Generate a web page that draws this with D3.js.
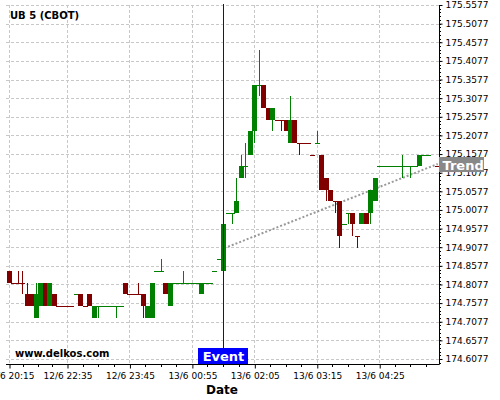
<!DOCTYPE html>
<html><head><meta charset="utf-8">
<script src="https://cdn.jsdelivr.net/npm/d3@7"></script>
<style>body{margin:0;background:#fff}svg{display:block;font-family:"DejaVu Sans",sans-serif}</style>
</head><body><svg id="c" width="500" height="400"></svg>
<script>
const title = "UB 5 (CBOT)";
const watermark = "www.delkos.com";
const xAxisTitle = "Date";
const eventLabel = "Event";
const trendLabel = "Trend";

const times = [
"12/6 20:15","12/6 21:35","12/6 21:40","12/6 21:45","12/6 21:50","12/6 21:55","12/6 22:00","12/6 22:05","12/6 22:10","12/6 22:15","12/6 22:20","12/6 22:25","12/6 22:30",
"12/6 22:35","12/6 22:40","12/6 22:45","12/6 22:50","12/6 22:55","12/6 23:00","12/6 23:05","12/6 23:10","12/6 23:15","12/6 23:20","12/6 23:25","12/6 23:30","12/6 23:35","12/6 23:40",
"12/6 23:45","12/6 23:50","12/6 23:55","13/6 00:00","13/6 00:05","13/6 00:10","13/6 00:15","13/6 00:20","13/6 00:25","13/6 00:30","13/6 00:35","13/6 00:40","13/6 00:45","13/6 00:50",
"13/6 00:55","13/6 01:00","13/6 01:05","13/6 01:10","13/6 01:15","13/6 01:20","13/6 01:25","13/6 01:30","13/6 01:35","13/6 01:40","13/6 01:45","13/6 01:50","13/6 01:55","13/6 02:00",
"13/6 02:05","13/6 02:10","13/6 02:15","13/6 02:20","13/6 02:25","13/6 02:30","13/6 02:35","13/6 02:40","13/6 02:45","13/6 02:50","13/6 02:55","13/6 03:00","13/6 03:05","13/6 03:10",
"13/6 03:15","13/6 03:20","13/6 03:25","13/6 03:30","13/6 03:35","13/6 03:40","13/6 03:45","13/6 03:50","13/6 03:55","13/6 04:00","13/6 04:05","13/6 04:10","13/6 04:15","13/6 04:20",
"13/6 04:25","13/6 04:30","13/6 04:35","13/6 04:40","13/6 04:45","13/6 04:50","13/6 04:55","13/6 05:00","13/6 05:05","13/6 05:10","13/6 05:15","13/6 05:20","13/6 05:25","13/6 05:30"
];

const open = [
174.84375,174.8125,174.8125,174.8125,174.78125,174.78125,174.71875,174.75,174.8125,174.75,
174.78125,174.75,174.75,174.75,174.75,174.78125,174.78125,174.75,174.78125,174.71875,
174.75,174.75,174.75,174.75,174.75,174.75,174.8125,174.78125,174.78125,174.78125,
174.78125,174.71875,174.71875,174.84375,174.84375,174.8125,174.75,174.8125,174.8125,174.8125,
174.8125,174.8125,174.8125,174.78125,174.8125,174.8125,174.84375,174.875,174.84375,175,
175,175,175.09375,175.125,175.15625,175.21875,175.34375,175.34375,175.28125,175.25,
175.25,175.25,175.25,175.1875,175.25,175.1875,175.1875,175.1875,175.15625,175.1875,
175.15625,175.09375,175.0625,175.03125,175.03125,174.96875,175,175,174.9375,174.96875,
175,175,175.03125,175.125,175.125,175.125,175.125,175.125,175.125,175.125,
175.125,175.125,175.125,175.15625,175.15625,null,175.125];
const high = [
174.84375,174.8125,174.84375,174.84375,174.8125,174.78125,174.8125,174.8125,174.8125,174.8125,
174.78125,174.75,174.75,174.75,174.75,174.78125,174.78125,174.75,174.78125,174.75,
174.75,174.75,174.75,174.75,174.75,174.75,174.8125,174.78125,174.78125,174.8125,
174.78125,174.75,174.8125,174.84375,174.875,174.8125,174.8125,174.8125,174.8125,174.84375,
174.8125,174.8125,174.8125,174.8125,174.8125,174.8125,174.84375,174.875,174.96875,175,
175,175.09375,175.15625,175.1875,175.21875,175.34375,175.4375,175.34375,175.28125,175.28125,
175.25,175.25,175.25,175.3125,175.25,175.1875,175.1875,175.1875,175.15625,175.21875,
175.15625,175.09375,175.0625,175.03125,175.03125,174.96875,175,175,174.9375,175,
175,175.0625,175.09375,175.125,175.125,175.125,175.125,175.125,175.15625,175.125,
175.125,175.125,175.15625,175.15625,175.15625,null,175.125];
const low = [
174.8125,174.8125,174.8125,174.78125,174.75,174.75,174.71875,174.75,174.75,174.75,
174.75,174.75,174.75,174.75,174.75,174.78125,174.75,174.75,174.75,174.71875,
174.71875,174.75,174.75,174.75,174.71875,174.75,174.78125,174.78125,174.78125,174.78125,
174.71875,174.71875,174.71875,174.84375,174.84375,174.78125,174.75,174.8125,174.8125,174.8125,
174.8125,174.8125,174.8125,174.78125,174.8125,174.8125,174.84375,174.875,174.84375,175,
174.96875,175,175.09375,175.09375,175.15625,175.1875,175.3125,175.28125,175.25,175.21875,
175.25,175.21875,175.21875,175.1875,175.1875,175.15625,175.1875,175.1875,175.15625,175.1875,
175.0625,175.03125,175.03125,175,174.90625,174.96875,174.96875,174.9375,174.90625,174.96875,
174.96875,174.96875,175.03125,175.125,175.125,175.125,175.125,175.125,175.09375,175.125,
175.09375,175.125,175.125,175.15625,175.15625,null,175.125];
const close = [
174.8125,174.8125,174.8125,174.8125,174.75,174.75,174.78125,174.8125,174.75,174.8125,
174.75,174.75,174.75,174.75,174.75,174.78125,174.75,174.75,174.75,174.75,
174.75,174.75,174.75,174.75,174.75,174.75,174.78125,174.78125,174.78125,174.78125,
174.75,174.75,174.8125,174.84375,174.84375,174.78125,174.8125,174.8125,174.8125,174.8125,
174.8125,174.8125,174.8125,174.8125,174.8125,174.8125,174.84375,174.875,174.96875,175,
175,175.03125,175.125,175.125,175.21875,175.34375,175.34375,175.28125,175.25,175.28125,
175.25,175.25,175.21875,175.25,175.1875,175.1875,175.1875,175.1875,175.15625,175.1875,
175.0625,175.0625,175.03125,175.03125,174.9375,174.96875,175,174.96875,174.9375,175,
174.96875,175.0625,175.09375,175.125,175.125,175.125,175.125,175.125,175.125,175.125,
175.125,175.125,175.15625,175.15625,175.15625,null,175.125];

const yTickLabels = ["174.6077","174.6577","174.7077","174.7577","174.8077","174.8577","174.9077","174.9577","175.0077","175.0577",
"175.1077","175.1577","175.2077","175.2577","175.3077","175.3577","175.4077","175.4577","175.5077","175.5577"];
const xTickLabels = ["12/6 20:15","12/6 22:35","12/6 23:45","13/6 00:55","13/6 02:05","13/6 03:15","13/6 04:25"];
const eventTime = "13/6 01:30";
const trendTimes = ["13/6 01:35","13/6 05:30"];
const trendValues = [174.909, 175.131];

const GREEN = "#008000", RED = "#800000";
const svg = d3.select("#c");
const L = 6, R = 439.5, T = 5, B = 364;

const x = d3.scaleLinear().domain([0, times.length - 1]).range([9.5, 437.7]);
const y = d3.scaleLinear().domain([174.6077, 175.5577]).range([359, 5]);

const yt = yTickLabels.map(Number);
const xt = xTickLabels.map(l => times.indexOf(l));

// grid
const grid = svg.append("g").attr("stroke", "#c8c8c8").attr("stroke-dasharray", "3,2").attr("stroke-width", 1);
yt.forEach(v => { const yy = Math.round(y(v)) + 0.5;
  grid.append("line").attr("x1", L).attr("x2", R).attr("y1", yy).attr("y2", yy); });
xt.forEach(i => { const xx = Math.floor(x(i)) + 0.5;
  grid.append("line").attr("x1", xx).attr("x2", xx).attr("y1", T).attr("y2", B); });

// trend
svg.append("line")
  .attr("x1", x(times.indexOf(trendTimes[0]))).attr("y1", y(trendValues[0]))
  .attr("x2", x(times.indexOf(trendTimes[1]))).attr("y2", y(trendValues[1]))
  .attr("stroke", "#999").attr("stroke-width", 2).attr("stroke-dasharray", "2,2");

// candles
const cg = svg.append("g");
let prevColor = GREEN, prevClose = null;
times.forEach((t, i) => {
  const o = open[i], h = high[i], l = low[i], c = close[i];
  if (o == null) return;
  let col;
  if (c > o) col = GREEN; else if (c < o) col = RED;
  else if (prevClose != null && c > prevClose) col = GREEN;
  else if (prevClose != null && c < prevClose) col = RED;
  else col = prevColor;
  prevColor = col; prevClose = c;
  const cx = x(i), wx = Math.floor(cx) + 0.5;
  if (h > Math.max(o, c) || l < Math.min(o, c))
    cg.append("line").attr("x1", wx).attr("x2", wx)
      .attr("y1", Math.round(y(h))).attr("y2", Math.round(y(l)))
      .attr("stroke", col).attr("stroke-width", 1);
  const yTop = Math.round(y(Math.max(o, c))), yBot = Math.round(y(Math.min(o, c)));
  cg.append("rect").attr("x", Math.round(cx - 2.5)).attr("width", 5)
    .attr("y", yTop).attr("height", Math.max(1, yBot - yTop)).attr("fill", col);
});

// right axis
const ay = svg.append("g").attr("transform", `translate(${R},0)`)
  .call(d3.axisRight(y).tickValues(yt).tickFormat((d, i) => yTickLabels[i]).tickSize(3).tickPadding(3));
ay.select(".domain").remove();
ay.selectAll("text").attr("font-size", 9).attr("font-family", "DejaVu Sans").attr("fill", "#000");
ay.selectAll(".tick line").attr("stroke", "#000");
const minorY = d3.range(0, 97).map(k => 174.5977 + k * 0.01);
svg.append("g").selectAll("line").data(minorY).join("line")
  .attr("x1", R).attr("x2", R + 1.5).attr("y1", d => Math.round(y(d)) + 0.5).attr("y2", d => Math.round(y(d)) + 0.5)
  .attr("stroke", "#000");
svg.append("line").attr("x1", R).attr("x2", R).attr("y1", T).attr("y2", B + 0.5).attr("stroke", "#000");

// bottom axis
const ax = svg.append("g").attr("transform", `translate(0,${B + 0.5})`)
  .call(d3.axisBottom(x).tickValues(xt).tickFormat((d, i) => xTickLabels[i]).tickSize(4).tickPadding(4));
ax.select(".domain").remove();
ax.selectAll("text").attr("font-size", 9).attr("font-family", "DejaVu Sans").attr("fill", "#000");
const minorX = [];
for (let k = 0; k < xt.length; k++) {
  const a = xt[k], b = k + 1 < xt.length ? xt[k + 1] : xt[k] + 14;
  for (let q = 1; q < 4; q++) minorX.push(a + (b - a) * q / 4);
}
svg.append("g").selectAll("line").data(minorX).join("line")
  .attr("x1", d => Math.floor(x(d)) + 0.5).attr("x2", d => Math.floor(x(d)) + 0.5)
  .attr("y1", B).attr("y2", B + 3).attr("stroke", "#000");
svg.append("line").attr("x1", L).attr("x2", R).attr("y1", B + 0.5).attr("y2", B + 0.5).attr("stroke", "#000");

// event
const ex = Math.floor(x(times.indexOf(eventTime))) + 0.5;
svg.append("line").attr("x1", ex).attr("x2", ex).attr("y1", 4).attr("y2", B).attr("stroke", "#0000ff");
svg.append("rect").attr("x", ex - 25.5).attr("y", 348).attr("width", 50).attr("height", 16).attr("fill", "#0000ff");
svg.append("text").attr("x", ex).attr("y", 361).attr("text-anchor", "middle").attr("font-size", 13)
  .attr("font-weight", "bold").attr("fill", "#fff").text(eventLabel);

// trend label
const ty = y(trendValues[1]);
svg.append("rect").attr("x", 439).attr("y", Math.round(ty) - 7).attr("width", 45).attr("height", 15).attr("fill", "#888");
svg.append("text").attr("x", 442.5).attr("y", Math.round(ty) + 6).attr("font-size", 13)
  .attr("font-weight", "bold").attr("fill", "#fff").text(trendLabel);

// texts
svg.append("text").attr("x", 10).attr("y", 19).attr("font-size", 10).attr("font-weight", "bold").text(title);
svg.append("text").attr("x", 15).attr("y", 357).attr("font-size", 10).attr("font-weight", "bold").text(watermark);
svg.append("text").attr("x", 222).attr("y", 394).attr("text-anchor", "middle").attr("font-size", 12)
  .attr("font-weight", "bold").text(xAxisTitle);
</script></body></html>
